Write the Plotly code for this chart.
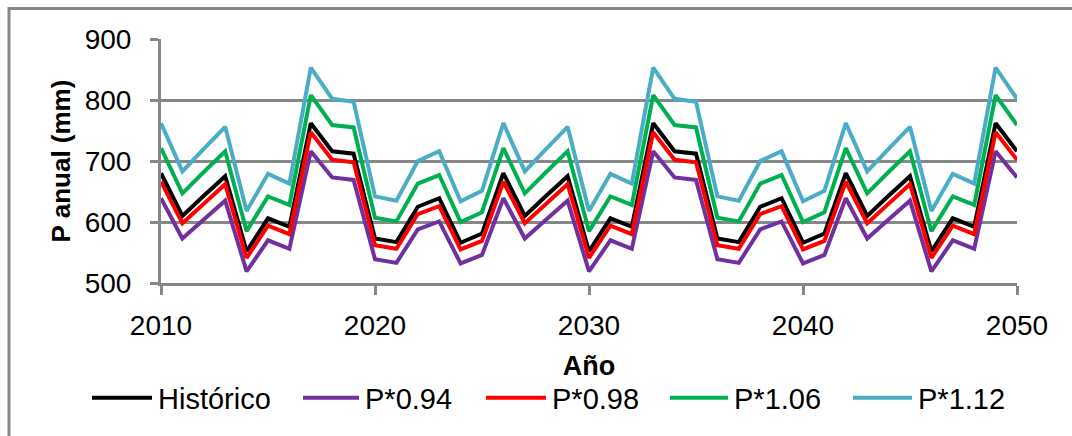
import plotly.graph_objects as go

# ---------------- data ----------------
years = list(range(2010, 2051))
series_names = ["Histórico", "P*0.94", "P*0.98", "P*1.06", "P*1.12"]

historico = [680, 610, 643, 675, 552, 606, 592, 762, 716, 712, 573, 567, 625, 639, 566, 581,
             680, 610, 643, 675, 552, 606, 592, 762, 716, 712, 573, 567, 625, 639, 566, 581,
             680, 610, 643, 675, 552, 606, 592, 762, 716]
p094 = [639, 573, 604, 635, 519, 570, 556, 716, 673, 669, 539, 533, 588, 601, 532, 546,
        639, 573, 604, 635, 519, 570, 556, 716, 673, 669, 539, 533, 588, 601, 532, 546,
        639, 573, 604, 635, 519, 570, 556, 716, 673]
p098 = [666, 598, 630, 662, 541, 594, 580, 747, 702, 698, 562, 556, 613, 626, 555, 569,
        666, 598, 630, 662, 541, 594, 580, 747, 702, 698, 562, 556, 613, 626, 555, 569,
        666, 598, 630, 662, 541, 594, 580, 747, 702]
p106 = [721, 647, 682, 716, 585, 642, 628, 808, 759, 755, 607, 601, 663, 677, 600, 616,
        721, 647, 682, 716, 585, 642, 628, 808, 759, 755, 607, 601, 663, 677, 600, 616,
        721, 647, 682, 716, 585, 642, 628, 808, 759]
p112 = [762, 683, 720, 756, 618, 679, 663, 853, 802, 797, 642, 635, 700, 716, 634, 651,
        762, 683, 720, 756, 618, 679, 663, 853, 802, 797, 642, 635, 700, 716, 634, 651,
        762, 683, 720, 756, 618, 679, 663, 853, 802]

x_tickvals = [2010, 2020, 2030, 2040, 2050]
y_tickvals = [500, 600, 700, 800, 900]

# ---------------- styles ----------------
colors = ["#000000", "#7030A0", "#FF0000", "#00B050", "#4BACC6"]
GRAY = "#878787"
FONT = "Liberation Sans"

W, H = 1072, 436
L, R, T, B = 161, 55, 38.5, 153
PW, PH = W - L - R, H - T - B


def px2x(px):
    return (px - L) / PW


def px2y(py):
    return (H - B - py) / PH


fig = go.Figure()
all_series = [historico, p094, p098, p106, p112]
for name, vals, col in zip(series_names, all_series, colors):
    fig.add_trace(go.Scatter(x=years, y=vals, mode="lines", name=name,
                             line=dict(color=col, width=4), showlegend=False))

shapes = [
    # outer chart border
    dict(type="rect", xref="paper", yref="paper",
         x0=px2x(9), x1=px2x(1090), y0=px2y(8), y1=px2y(460),
         line=dict(color=GRAY, width=3), fillcolor="rgba(0,0,0,0)", layer="below"),
]
annotations = []

# custom legend (long line samples as in the original)
leg_y = 398
leg_items = [(92, 152), (303, 359), (486, 546), (670, 728), (853, 912)]
for (x0, x1), name, col in zip(leg_items, series_names, colors):
    shapes.append(dict(type="line", xref="paper", yref="paper",
                       x0=px2x(x0), x1=px2x(x1), y0=px2y(leg_y), y1=px2y(leg_y),
                       line=dict(color=col, width=4)))
    annotations.append(dict(text=name, xref="paper", yref="paper",
                            x=px2x(x1 + 4), y=px2y(leg_y + 1), xanchor="left", yanchor="middle",
                            showarrow=False, font=dict(family=FONT, size=29, color="#000000")))

fig.update_layout(
    width=W, height=H,
    margin=dict(l=L, r=R, t=T, b=B, pad=0),
    paper_bgcolor="white", plot_bgcolor="white",
    font=dict(family=FONT, size=28, color="#000000"),
    shapes=shapes, annotations=annotations,
    xaxis=dict(range=[2010, 2050], tickvals=x_tickvals, ticktext=[str(v) for v in x_tickvals],
               showgrid=False, zeroline=False, showline=True, linecolor=GRAY, linewidth=3,
               ticks="outside", ticklen=9, tickwidth=3, tickcolor=GRAY,
               ticklabelstandoff=6,
               tickfont=dict(family=FONT, size=28, color="#000000"),
               title=dict(text="<b>Año</b>", standoff=17,
                          font=dict(family=FONT, size=27, color="#000000"))),
    yaxis=dict(range=[500, 900], tickvals=y_tickvals,
               showgrid=True, gridcolor=GRAY, gridwidth=3, zeroline=False,
               showline=True, linecolor=GRAY, linewidth=3,
               ticks="outside", ticklen=8, tickwidth=3, tickcolor=GRAY,
               ticklabelstandoff=13,
               tickfont=dict(family=FONT, size=28, color="#000000"),
               title=dict(text="<b>P anual (mm)</b>", standoff=7,
                          font=dict(family=FONT, size=26, color="#000000"))),
)

fig.write_html("out.html")
